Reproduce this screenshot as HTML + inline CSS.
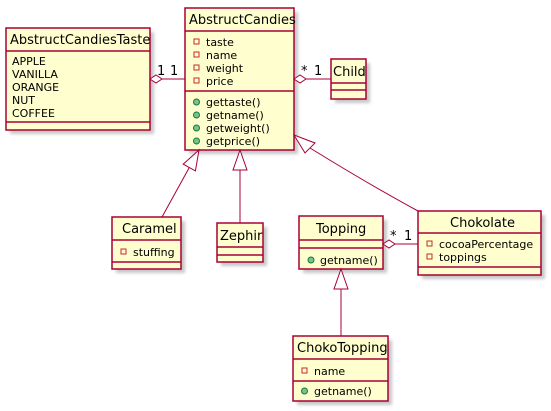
<!DOCTYPE html>
<html><head><meta charset="utf-8"><style>
html,body{margin:0;padding:0;background:#fff;}
svg{display:block;}
text{font-family:"DejaVu Sans","Liberation Sans",sans-serif;fill:#000;}
.t{font-size:13px;}
.m{font-size:11px;}
.b{fill:#FEFECE;stroke:#A80036;stroke-width:1.5;}
.s{fill:#000;opacity:0.22;filter:url(#bl);}
.l{stroke:#A80036;stroke-width:1;fill:none;}
.pr{fill:none;stroke:#C82930;stroke-width:1;}
.pu{fill:#84BE84;stroke:#038048;stroke-width:1;}
</style></head><body>
<svg width="551" height="411" viewBox="0 0 551 411" xmlns="http://www.w3.org/2000/svg">
<defs><filter id="bl"><feGaussianBlur stdDeviation="1.5"/></filter></defs>
<!-- shadows -->
<rect class="s" x="10" y="32" width="144" height="102"/>
<rect class="s" x="189" y="12" width="109" height="142"/>
<rect class="s" x="335" y="63" width="35" height="40"/>
<rect class="s" x="116" y="221" width="69" height="52"/>
<rect class="s" x="221" y="227" width="46" height="39"/>
<rect class="s" x="303" y="220" width="84" height="53"/>
<rect class="s" x="422" y="215" width="123" height="64"/>
<rect class="s" x="297" y="340" width="95" height="65"/>

<!-- AbstructCandiesTaste -->
<rect class="b" x="6" y="28" width="144" height="102"/>
<line class="l" x1="6" y1="51" x2="150" y2="51" style="stroke-width:1.5"/>
<line class="l" x1="6" y1="122" x2="150" y2="122" style="stroke-width:1.5"/>
<text class="t" x="10" y="44">AbstructCandiesTaste</text>
<text class="m" x="12" y="65">APPLE</text>
<text class="m" x="12" y="78">VANILLA</text>
<text class="m" x="12" y="91">ORANGE</text>
<text class="m" x="12" y="104">NUT</text>
<text class="m" x="12" y="117">COFFEE</text>

<!-- AbstructCandies -->
<rect class="b" x="185" y="8" width="109" height="142"/>
<line class="l" x1="185" y1="31" x2="294" y2="31" style="stroke-width:1.5"/>
<line class="l" x1="185" y1="91" x2="294" y2="91" style="stroke-width:1.5"/>
<text class="t" x="189" y="24">AbstructCandies</text>
<rect class="pr" x="194" y="39" width="5" height="5"/><text class="m" x="206" y="46">taste</text>
<rect class="pr" x="194" y="52" width="5" height="5"/><text class="m" x="206" y="59">name</text>
<rect class="pr" x="194" y="65" width="5" height="5"/><text class="m" x="206" y="72">weight</text>
<rect class="pr" x="194" y="78" width="5" height="5"/><text class="m" x="206" y="85">price</text>
<circle class="pu" cx="196.5" cy="102" r="3"/><text class="m" x="206" y="106">gettaste()</text>
<circle class="pu" cx="196.5" cy="115" r="3"/><text class="m" x="206" y="119">getname()</text>
<circle class="pu" cx="196.5" cy="128" r="3"/><text class="m" x="206" y="132">getweight()</text>
<circle class="pu" cx="196.5" cy="141" r="3"/><text class="m" x="206" y="145">getprice()</text>

<!-- Child -->
<rect class="b" x="331" y="59" width="35" height="40"/>
<line class="l" x1="331" y1="83" x2="366" y2="83" style="stroke-width:1.5"/>
<line class="l" x1="331" y1="90" x2="366" y2="90" style="stroke-width:1.5"/>
<text class="t" x="333" y="76">Child</text>

<!-- Caramel -->
<rect class="b" x="112" y="217" width="69" height="52"/>
<line class="l" x1="112" y1="240" x2="181" y2="240" style="stroke-width:1.5"/>
<line class="l" x1="112" y1="262" x2="181" y2="262" style="stroke-width:1.5"/>
<text class="t" x="122" y="233">Caramel</text>
<rect class="pr" x="121" y="249" width="5" height="5"/><text class="m" x="133" y="256">stuffing</text>

<!-- Zephir -->
<rect class="b" x="217" y="223" width="46" height="39"/>
<line class="l" x1="217" y1="247" x2="263" y2="247" style="stroke-width:1.5"/>
<line class="l" x1="217" y1="255" x2="263" y2="255" style="stroke-width:1.5"/>
<text class="t" x="220" y="240">Zephir</text>

<!-- Topping -->
<rect class="b" x="299" y="216" width="84" height="53"/>
<line class="l" x1="299" y1="240" x2="383" y2="240" style="stroke-width:1.5"/>
<line class="l" x1="299" y1="248" x2="383" y2="248" style="stroke-width:1.5"/>
<text class="t" x="316" y="233">Topping</text>
<circle class="pu" cx="311" cy="260" r="3"/><text class="m" x="320" y="264">getname()</text>

<!-- Chokolate -->
<rect class="b" x="418" y="211" width="123" height="64"/>
<line class="l" x1="418" y1="233" x2="541" y2="233" style="stroke-width:1.5"/>
<line class="l" x1="418" y1="267" x2="541" y2="267" style="stroke-width:1.5"/>
<text class="t" x="450" y="227">Chokolate</text>
<rect class="pr" x="427" y="241" width="5" height="5"/><text class="m" x="439" y="248">cocoaPercentage</text>
<rect class="pr" x="427" y="254" width="5" height="5"/><text class="m" x="439" y="261">toppings</text>

<!-- ChokoTopping -->
<rect class="b" x="293" y="336" width="95" height="65"/>
<line class="l" x1="293" y1="359" x2="388" y2="359" style="stroke-width:1.5"/>
<line class="l" x1="293" y1="381" x2="388" y2="381" style="stroke-width:1.5"/>
<text class="t" x="297" y="352">ChokoTopping</text>
<rect class="pr" x="302" y="368" width="5" height="5"/><text class="m" x="314" y="375">name</text>
<circle class="pu" cx="304.5" cy="391" r="3"/><text class="m" x="314" y="395">getname()</text>

<!-- aggregations -->
<line class="l" x1="174" y1="79" x2="185" y2="79"/>
<polygon points="150,79 156,75 162,79 156,83" fill="#fff" stroke="#A80036"/>
<line class="l" x1="162" y1="79" x2="185" y2="79"/>
<text class="t" x="157" y="75">1</text><text class="t" x="170" y="75">1</text>

<polygon points="294,79 300,75 306,79 300,83" fill="#fff" stroke="#A80036"/>
<line class="l" x1="306" y1="79" x2="331" y2="79"/>
<text class="t" x="301" y="75">*</text><text class="t" x="314" y="75">1</text>

<polygon points="383,244 389,240 395,244 389,248" fill="#fff" stroke="#A80036"/>
<line class="l" x1="395" y1="244" x2="418" y2="244"/>
<text class="t" x="390" y="240">*</text><text class="t" x="404" y="240">1</text>

<!-- inheritance -->
<line class="l" x1="189.3" y1="167.5" x2="162" y2="217"/>
<polygon points="199,150 195.4,170.9 183.2,164.1" fill="#fff" stroke="#A80036"/>
<line class="l" x1="240" y1="170" x2="240" y2="223"/>
<polygon points="240,150 247,170 233,170" fill="#fff" stroke="#A80036"/>
<path class="l" d="M310,148 Q370,185 418,211"/>
<polygon points="294,135 315,143 305,153" fill="#fff" stroke="#A80036"/>
<line class="l" x1="341" y1="289" x2="341" y2="336"/>
<polygon points="341,269 348,289 334,289" fill="#fff" stroke="#A80036"/>
</svg>
</body></html>
